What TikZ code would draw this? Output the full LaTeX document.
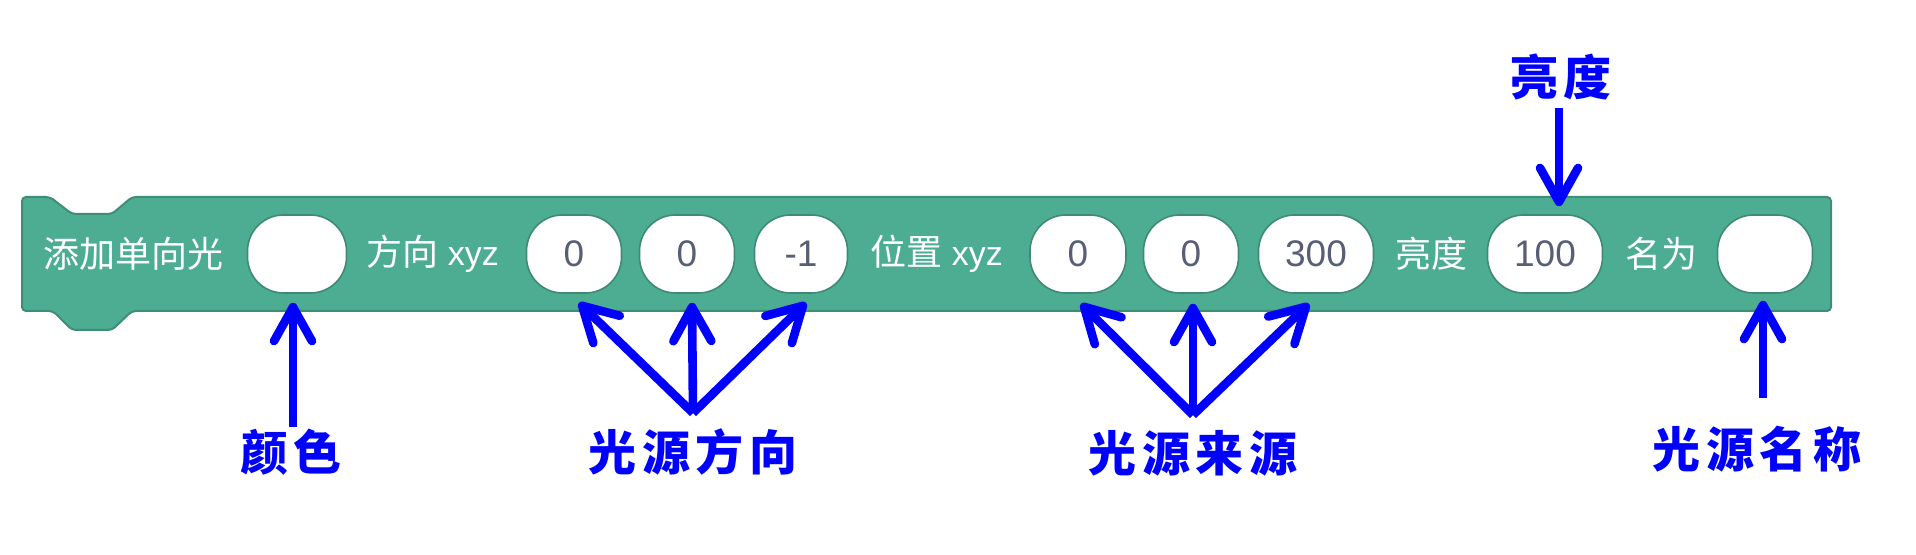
\documentclass[tikz,border=0pt]{standalone}
\usepackage{fontspec}
\setmainfont{Liberation Sans}
\newfontfamily\cjk{Noto Sans CJK SC}
\newfontfamily\lab[LetterSpace=12]{Noto Sans CJK SC}
\usetikzlibrary{arrows.meta,calc}
\definecolor{blockgreen}{HTML}{4CAD93}
\definecolor{blockedge}{HTML}{3F8C77}
\definecolor{slotedge}{HTML}{3E8A74}
\definecolor{numgray}{HTML}{575E75}
\definecolor{labblue}{HTML}{0000FF}
\tikzset{
  slot/.style={draw=slotedge, line width=0.8pt, fill=white, rounded corners=18pt,
    minimum height=39pt, inner sep=0pt, text=numgray, font=\fontsize{18.5}{18.5}\selectfont},
  blocktext/.style={anchor=west, inner sep=0pt, text=white, font=\fontsize{17}{17}\selectfont},
  callout/.style={text=labblue, font=\lab\bfseries\fontsize{24}{24}\selectfont},
  pointer/.style={labblue, line width=4.3pt, -{Straight Barb[length=17pt, width=19pt, round]}},
}
\begin{document}
\begin{tikzpicture}[x=0.5pt, y=-0.5pt]
  \useasboundingbox (0,0) rectangle (1916,555);
  % block body
  \draw[fill=blockgreen, draw=blockedge, line width=1pt, rounded corners=2pt]
    (22,197) -- (50,197) -- (72,214) -- (112,214) -- (132,197) -- (1831,197)
    -- (1831,311) -- (132,311) -- (112,330) -- (72,330) -- (53,311) -- (22,311) -- cycle;
  % words on the block
  \node[blocktext] (title) at (43,254) {\cjk\fontsize{18}{18}\selectfont 添加单向光};
  \node[blocktext] (dirword) at (366,254) {{\cjk\fontsize{18}{18}\selectfont 方向} xyz};
  \node[blocktext] (posword) at (870,254) {{\cjk\fontsize{18}{18}\selectfont 位置} xyz};
  \node[blocktext] (brightword) at (1395,254) {\cjk\fontsize{18}{18}\selectfont 亮度};
  \node[blocktext] (nameword) at (1625,254) {\cjk\fontsize{18}{18}\selectfont 名为};
  % input slots
  \node[slot, minimum width=49.5pt] (colour) at (297,254) {};
  \node[slot, minimum width=47.5pt] (dx) at (574,254) {0};
  \node[slot, minimum width=47.5pt] (dy) at (687,254) {0};
  \node[slot, minimum width=46.5pt] (dz) at (801,254) {-1};
  \node[slot, minimum width=48pt] (px) at (1078,254) {0};
  \node[slot, minimum width=47.5pt] (py) at (1191,254) {0};
  \node[slot, minimum width=57.5pt] (pz) at (1316,254) {300};
  \node[slot, minimum width=57.5pt] (bright) at (1545,254) {100};
  \node[slot, minimum width=47.5pt] (name) at (1765,254) {};
  % callouts
  \node[callout] (colourlab) at (291,452) {颜色};
  \node[callout] (dirlab) at (693,452) {光源方向};
  \node[callout] (poslab) at (1193,453) {光源来源};
  \node[callout] (namelab) at (1757,449) {光源名称};
  \node[callout] (brightlab) at (1561,77) {亮度};
  \coordinate (colourfoot) at (293,427);
  \coordinate (dirfoot) at (693,413);
  \coordinate (posfoot) at (1193,415);
  \coordinate (namefoot) at (1763,398);
  \coordinate (brighttop) at (1559,108);
  % pointers
  \draw[pointer] (colourfoot) -- ($(colourfoot |- colour.south)+(0,9)$);
  \foreach \s in {dx,dy,dz}
    \draw[pointer] (dirfoot) -- ($(\s.south)+(5,9)$);
  \foreach \s/\dx in {px/3,py/2,pz/-7}
    \draw[pointer] (posfoot) -- ($(\s.south)+(\dx,10)$);
  \draw[pointer] (namefoot) -- ($(namefoot |- name.south)+(0,7)$);
  \draw[pointer] (brighttop) -- ($(brighttop |- bright.north)+(0,-8)$);
\end{tikzpicture}
\end{document}
